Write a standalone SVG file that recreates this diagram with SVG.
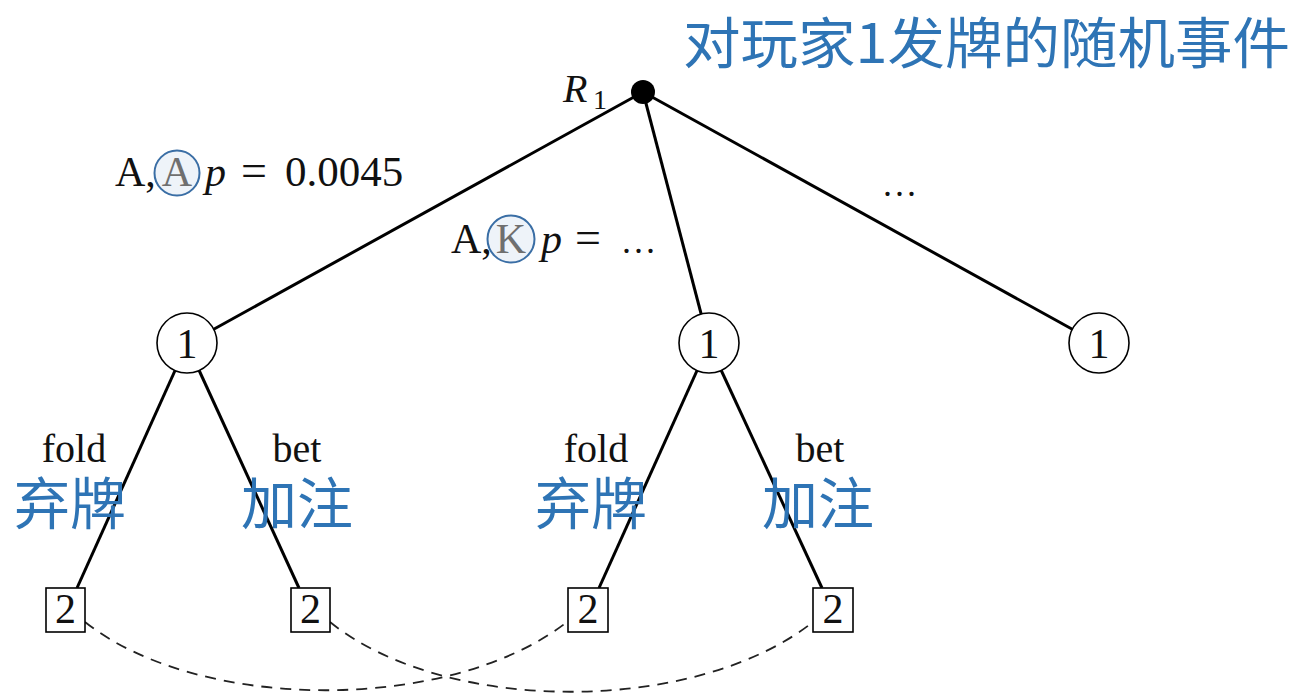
<svg xmlns="http://www.w3.org/2000/svg" width="1297" height="694" viewBox="0 0 1297 694">
<style>
.edge{stroke:#000;stroke-width:3;fill:none}
.info{stroke:#222;stroke-width:1.8;fill:none;stroke-dasharray:11 8}
.tex{font-family:"Liberation Serif","DejaVu Serif",serif;fill:#111}
.it{font-style:italic}
.cn{font-family:"Noto Sans CJK SC","Noto Sans CJK JP",sans-serif;fill:#2e74b5}
.pnode{fill:#fff;stroke:#000;stroke-width:1.6}
.mark{fill:#eef3f9;stroke:#3a6ea5;stroke-width:2}
</style>
<rect width="1297" height="694" fill="#fff"/>
<g id="connectors">
<line class="edge" x1="643" y1="92" x2="187" y2="344"/>
<line class="edge" x1="643" y1="92" x2="709" y2="344"/>
<line class="edge" x1="643" y1="92" x2="1099" y2="344"/>
<line class="edge" x1="187" y1="344" x2="77" y2="588"/>
<line class="edge" x1="187" y1="344" x2="299" y2="588"/>
<line class="edge" x1="709" y1="344" x2="599" y2="588"/>
<line class="edge" x1="709" y1="344" x2="822" y2="588"/>
<path class="info" d="M85,622 C200,713 450,713 567,622"/>
<path class="info" d="M330,622 C445,715 695,715 813,622"/>
</g>
<g id="title"><text class="cn" x="683" y="63" font-size="55" textLength="607" lengthAdjust="spacingAndGlyphs">对玩家1发牌的随机事件</text></g>
<g id="root">
<circle cx="643" cy="92" r="12" fill="#000"/>
<text class="tex it" x="563" y="102" font-size="40">R</text>
<text class="tex" x="593" y="109" font-size="28">1</text>
</g>
<g id="label-AA">
<text class="tex" x="115" y="186" font-size="42">A,</text>
<circle class="mark" cx="177" cy="173" r="22.5"/>
<text class="tex" x="177" y="186" font-size="42" text-anchor="middle" style="fill:#6f6f6f">A</text>
<text class="tex it" x="205" y="186" font-size="42">p</text>
<text class="tex" x="241" y="186" font-size="46">=</text>
<text class="tex" x="285" y="186" font-size="43">0.0045</text>
</g>
<g id="label-AK">
<text class="tex" x="451" y="253" font-size="42">A,</text>
<circle class="mark" cx="511" cy="239" r="23.5"/>
<text class="tex" x="511" y="253" font-size="42" text-anchor="middle" style="fill:#6f6f6f">K</text>
<text class="tex it" x="541" y="253" font-size="42">p</text>
<text class="tex" x="575" y="253" font-size="46">=</text>
<text class="tex" x="622" y="253" font-size="36" letter-spacing="3">...</text>
</g>
<g id="label-more"><text class="tex" x="883" y="196" font-size="36" letter-spacing="3">...</text></g>
<g id="p1a"><circle class="pnode" cx="187" cy="343" r="30"/><text class="tex" x="187" y="358" font-size="42" text-anchor="middle">1</text></g>
<g id="p1b"><circle class="pnode" cx="709" cy="343" r="30"/><text class="tex" x="709" y="358" font-size="42" text-anchor="middle">1</text></g>
<g id="p1c"><circle class="pnode" cx="1099" cy="343" r="30"/><text class="tex" x="1099" y="358" font-size="42" text-anchor="middle">1</text></g>
<g id="lbl-fold-a"><text class="tex" x="74" y="462" font-size="40" text-anchor="middle">fold</text><text class="cn" x="70" y="524" font-size="56" text-anchor="middle">弃牌</text></g>
<g id="lbl-bet-a"><text class="tex" x="297" y="462" font-size="40" text-anchor="middle">bet</text><text class="cn" x="297" y="524" font-size="56" text-anchor="middle">加注</text></g>
<g id="lbl-fold-b"><text class="tex" x="596" y="462" font-size="40" text-anchor="middle">fold</text><text class="cn" x="591" y="524" font-size="56" text-anchor="middle">弃牌</text></g>
<g id="lbl-bet-b"><text class="tex" x="820" y="462" font-size="40" text-anchor="middle">bet</text><text class="cn" x="818" y="524" font-size="56" text-anchor="middle">加注</text></g>
<g id="p2a"><rect class="pnode" x="46" y="588" width="39" height="44"/><text class="tex" x="65.5" y="623" font-size="42" text-anchor="middle">2</text></g>
<g id="p2b"><rect class="pnode" x="291" y="588" width="39" height="44"/><text class="tex" x="310.5" y="623" font-size="42" text-anchor="middle">2</text></g>
<g id="p2c"><rect class="pnode" x="568" y="588" width="40" height="44"/><text class="tex" x="588" y="623" font-size="42" text-anchor="middle">2</text></g>
<g id="p2d"><rect class="pnode" x="813" y="588" width="40" height="44"/><text class="tex" x="833" y="623" font-size="42" text-anchor="middle">2</text></g>
</svg>
